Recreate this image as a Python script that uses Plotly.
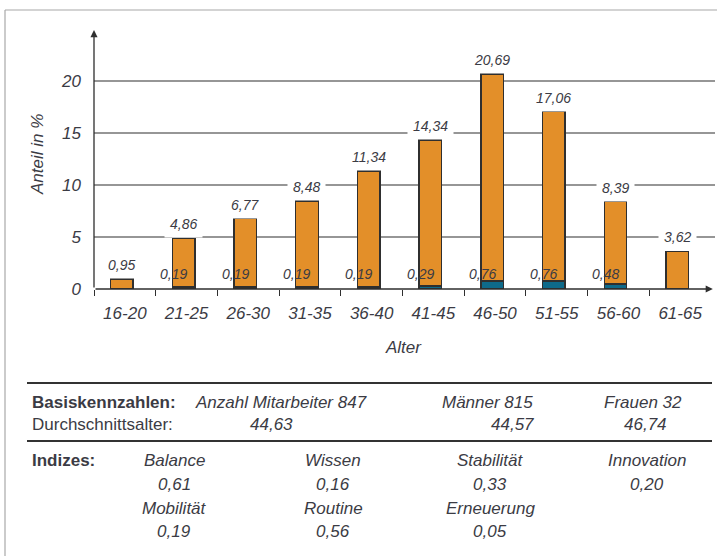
import plotly.graph_objects as go

# Age distribution of the workforce (share in %), with the women's share per group
age_groups = ["16-20", "21-25", "26-30", "31-35", "36-40", "41-45", "46-50", "51-55", "56-60", "61-65"]
total_share = [0.95, 4.86, 6.77, 8.48, 11.34, 14.34, 20.69, 17.06, 8.39, 3.62]
women_share = [0.0, 0.19, 0.19, 0.19, 0.19, 0.29, 0.76, 0.76, 0.48, 0.0]
y_ticks = [0, 5, 10, 15, 20]

# Key figures below the chart
basis_labels = ["Anzahl Mitarbeiter", "Männer", "Frauen"]
basis_counts = [847, 815, 32]
average_age = [44.63, 44.57, 46.74]

index_names = ["Balance", "Wissen", "Stabilität", "Innovation", "Mobilität", "Routine", "Erneuerung"]
index_values = [0.61, 0.16, 0.33, 0.20, 0.19, 0.56, 0.05]

ORANGE = "#E38F29"
BLUE = "#0E6A8A"
TEXT = "#3b3b44"
LINE = "#2f2f2f"
FONT = "Liberation Sans, Arial, sans-serif"

W, H = 717, 556
L, R, T, B = 94, 711, 29, 289  # plot area in pixels


def px(x):
    return (x - L) / (R - L)


def py(y):
    return (B - y) / (B - T)


def fmt(v):
    return f"{v:.2f}".replace(".", ",")


x = list(range(len(age_groups)))
men_part = [t - w for t, w in zip(total_share, women_share)]

fig = go.Figure()
bar_kw = dict(width=0.365, offset=-0.23, marker_line=dict(color=LINE, width=1.4), hoverinfo="skip")
fig.add_trace(go.Bar(x=x, y=women_share, marker_color=BLUE, **bar_kw))
fig.add_trace(go.Bar(x=x, y=men_part, marker_color=ORANGE, **bar_kw))

annotations = []
# total share above each bar, on a white box that interrupts the grid lines
for xi, t in zip(x, total_share):
    annotations.append(dict(x=xi - 0.05, y=t, xref="x", yref="y", text=fmt(t), showarrow=False,
                            yanchor="bottom", bgcolor="white", borderpad=5,
                            font=dict(family=FONT, size=14, color=TEXT, style="italic")))
# women's share at the foot of the bar
for xi, w in zip(x, women_share):
    if w > 0:
        annotations.append(dict(x=xi, y=0, xref="x", yref="y", text=fmt(w), showarrow=False,
                                yanchor="bottom", xshift=-13, yshift=5,
                                font=dict(family=FONT, size=14, color=TEXT, style="italic")))

# axes with arrow heads
annotations.append(dict(x=-0.5, y=24.9, ax=-0.5, ay=0, xref="x", yref="y", axref="x", ayref="y",
                        text="", showarrow=True, arrowhead=2, arrowsize=1.1, arrowwidth=1.3,
                        arrowcolor=LINE))
annotations.append(dict(x=9.53, y=0, ax=-0.5, ay=0, xref="x", yref="y", axref="x", ayref="y",
                        text="", showarrow=True, arrowhead=2, arrowsize=1.1, arrowwidth=1.3,
                        arrowcolor=LINE))

# axis titles
annotations.append(dict(x=px(37), y=py(155), xref="paper", yref="paper", text="Anteil in %",
                        textangle=-90, showarrow=False, xanchor="center", yanchor="middle",
                        font=dict(family=FONT, size=17, color=TEXT, style="italic")))
annotations.append(dict(x=px(403), y=py(347), xref="paper", yref="paper", text="Alter",
                        showarrow=False, xanchor="center", yanchor="middle",
                        font=dict(family=FONT, size=17, color=TEXT, style="italic")))


def label(xp, yp, text, anchor="center", bold=False, italic=True):
    annotations.append(dict(x=px(xp), y=py(yp), xref="paper", yref="paper", text=text,
                            showarrow=False, xanchor=anchor, yanchor="middle",
                            font=dict(family=FONT, size=17, color=TEXT,
                                      weight="bold" if bold else "normal",
                                      style="italic" if italic else "normal")))


# key figures block
label(30, 402, "Basiskennzahlen:", anchor="left", bold=True, italic=False)
label(30, 424, "Durchschnittsalter:", anchor="left", italic=False)
basis_cols = [281, 487, 643]
age_cols = [271, 512, 645]
for cx, name, n in zip(basis_cols, basis_labels, basis_counts):
    label(cx, 402, f"{name} {n}")
for cx, a in zip(age_cols, average_age):
    label(cx, 424, fmt(a))

label(30, 461, "Indizes:", anchor="left", bold=True, italic=False)
index_cols = [174, 333, 490, 647]
index_rows = [(461, 484), (508, 531)]
for i, (name, v) in enumerate(zip(index_names, index_values)):
    r, c = divmod(i, 4)
    label(index_cols[c], index_rows[r][0], name)
    label(index_cols[c], index_rows[r][1], fmt(v))

shapes = []
# horizontal grid lines
for g in y_ticks[1:]:
    shapes.append(dict(type="line", xref="paper", yref="y", x0=0, x1=px(715), y0=g, y1=g,
                       line=dict(color=LINE, width=1.2), layer="below"))
# rules of the key figures block
for yy in (383, 441):
    shapes.append(dict(type="line", xref="paper", yref="paper", x0=px(27), x1=px(712),
                       y0=py(yy), y1=py(yy), line=dict(color="#333333", width=2)))
# outer frame
shapes.append(dict(type="line", xref="paper", yref="paper", x0=px(5), x1=px(717),
                   y0=py(10), y1=py(10), line=dict(color="#a8a8a8", width=1.2)))
shapes.append(dict(type="line", xref="paper", yref="paper", x0=px(5), x1=px(5),
                   y0=py(10), y1=py(556), line=dict(color="#a8a8a8", width=1.2)))

fig.update_layout(
    width=W, height=H,
    margin=dict(l=L, r=W - R, t=T, b=H - B, autoexpand=False),
    paper_bgcolor="white", plot_bgcolor="white",
    barmode="stack", showlegend=False,
    annotations=annotations, shapes=shapes,
    xaxis=dict(range=[-0.5, 9.5], tickmode="array", tickvals=x, ticktext=age_groups,
               ticks="", showgrid=False, zeroline=False, showline=False,
               ticklabelstandoff=12,
               tickfont=dict(family=FONT, size=17, color=TEXT, style="italic"),
               minor=dict(tickmode="array", tickvals=[i - 0.5 for i in x], ticks="outside",
                          ticklen=6, tickwidth=1.3, tickcolor=LINE, showgrid=False)),
    yaxis=dict(range=[0, 25], tickmode="array", tickvals=y_ticks, ticks="",
               showgrid=False, zeroline=False, showline=False, ticklabelstandoff=12,
               tickfont=dict(family=FONT, size=17, color=TEXT, style="italic")),
)

fig.write_html("out.html")
